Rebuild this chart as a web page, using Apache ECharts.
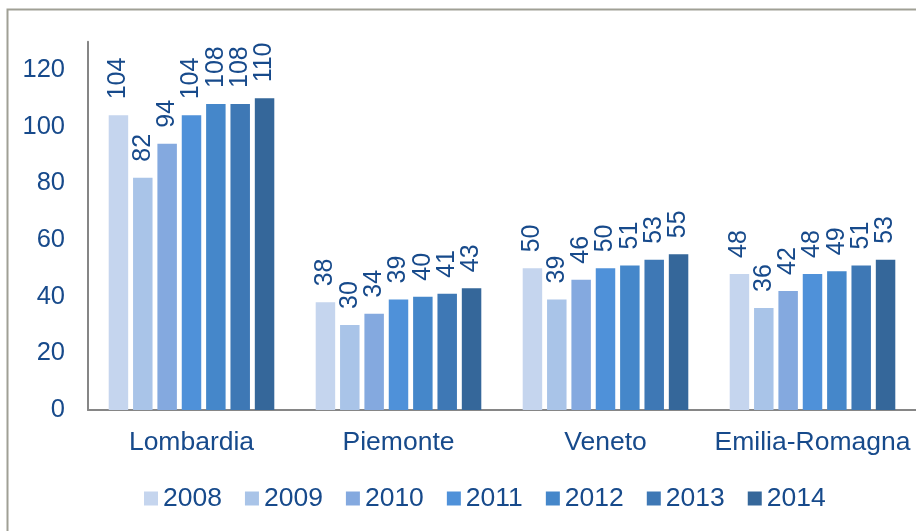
<!DOCTYPE html>
<html>
<head>
<meta charset="utf-8">
<style>html,body{margin:0;padding:0;background:#fff}#c{width:916px;height:531px}</style>
<script src="https://cdn.jsdelivr.net/npm/echarts@6/dist/echarts.min.js"></script>
</head>
<body>
<div id="c"></div>
<script>
var categories = ['Lombardia', 'Piemonte', 'Veneto', 'Emilia-Romagna'];
var years = ['2008', '2009', '2010', '2011', '2012', '2013', '2014'];
var v2008 = [104, 38, 50, 48];
var v2009 = [82, 30, 39, 36];
var v2010 = [94, 34, 46, 42];
var v2011 = [104, 39, 50, 48];
var v2012 = [108, 40, 51, 49];
var v2013 = [108, 41, 53, 51];
var v2014 = [110, 43, 55, 53];
var yTicks = [0, 20, 40, 60, 80, 100, 120];

var seriesValues = [v2008, v2009, v2010, v2011, v2012, v2013, v2014];
var colors = ['#C5D5EE', '#A9C4E8', '#84A9DF', '#4F91D9', '#4587CA', '#3E78B5', '#35679A'];
var textColor = '#174A8B';
var font = 'Liberation Sans, Arial, sans-serif';

var chart = echarts.init(document.getElementById('c'), null, {renderer: 'canvas'});
chart.setOption({
  animation: false,
  textStyle: {fontFamily: font},
  graphic: [{
    type: 'rect', left: 5, top: 7, z: 100,
    shape: {width: 960, height: 600},
    style: {fill: 'none', stroke: '#A0A095', lineWidth: 2}
  }],
  grid: {left: 88, right: -4, top: 41.7, bottom: 121, containLabel: false},
  legend: {
    data: years, left: 139, top: 480,
    itemWidth: 14, itemHeight: 14, itemGap: 23,
    icon: 'rect',
    textStyle: {color: textColor, fontSize: 26.5, fontFamily: font, padding: [0, 0, 0, 0]}
  },
  xAxis: {
    type: 'category', data: categories,
    axisLine: {lineStyle: {color: '#868686', width: 2}},
    axisTick: {show: false},
    axisLabel: {color: textColor, fontSize: 26.5, margin: 19, interval: 0, fontFamily: font}
  },
  yAxis: {
    type: 'value', min: 0, max: 130, interval: 20,
    axisLine: {show: true, lineStyle: {color: '#868686', width: 2}},
    axisTick: {show: false},
    splitLine: {show: false},
    axisLabel: {color: textColor, fontSize: 25.5, margin: 23, fontFamily: font,
      formatter: function (v) { return yTicks.indexOf(v) >= 0 ? String(v) : ''; }}
  },
  series: years.map(function (y, i) {
    return {
      name: y, type: 'bar', data: seriesValues[i],
      barCategoryGap: '20%', barGap: '25%',
      itemStyle: {color: colors[i]},
      label: {
        show: true, position: 'top', rotate: 90, align: 'left', verticalAlign: 'middle',
        distance: 16, color: textColor, fontSize: 25, fontFamily: font
      }
    };
  })
});
</script>
</body>
</html>
